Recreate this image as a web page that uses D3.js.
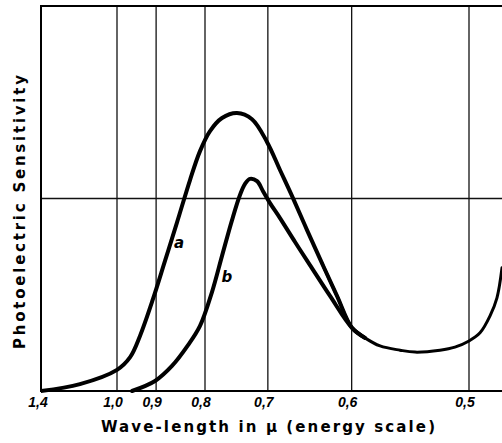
<!DOCTYPE html>
<html>
<head>
<meta charset="utf-8">
<script src="https://cdn.jsdelivr.net/npm/d3@7"></script>
<style>
  html, body { margin: 0; padding: 0; background: #fff; }
  svg { display: block; }
</style>
</head>
<body>
<svg id="chart" width="502" height="443"></svg>
<script>
// ---- data (wavelength in micron, sensitivity in arbitrary units 0..100) ----
const tickWaves  = [1.4, 1.0, 0.9, 0.8, 0.7, 0.6, 0.5];
const tickLabels = ["1,4", "1,0", "0,9", "0,8", "0,7", "0,6", "0,5"];
const gridSens   = [50];

const waveA = [1.40, 1.162, 1.0, 0.964, 0.9387, 0.9072, 0.880, 0.8543, 0.8282, 0.8092, 0.7910, 0.7702, 0.7458, 0.7228, 0.7012, 0.6835, 0.6667, 0.6494, 0.6320, 0.6154, 0.5997];
const sensA = [0.0,  1.8,   5.5, 8.8,   14.3,   23.9,   33.8,  43.8,   54.8,   62.3,   67.5,   70.9,   72.2,   70.6,   64.7,   57.4,   50.1,   41.8,   33.2,   24.7,   16.4];

const waveB = [0.9591, 0.9025, 0.8649, 0.8321, 0.8092, 0.7875, 0.7702, 0.7537, 0.7411, 0.7333, 0.7258, 0.7154, 0.7068, 0.6970, 0.6835, 0.6641, 0.6459, 0.6230, 0.5997];
const sensB = [0.0,    2.6,    6.5,    11.9,   16.9,   25.7,   35.1,   44.4,   50.9,   53.8,   55.1,   54.5,   51.9,   48.8,   44.9,   38.7,   32.7,   24.7,   16.4];

const waveTail = [0.5997, 0.5867, 0.5723, 0.5543, 0.5415, 0.5215, 0.5102, 0.5000, 0.4923, 0.4855, 0.4809, 0.4776];
const sensTail = [16.4,   13.8,   11.7,   10.6,   10.1,   10.6,   11.4,   13.0,   15.1,   19.5,   24.2,   32.0];

const curveLabels = [
  {name: "a", wave: 0.850, sens: 38.4},
  {name: "b", wave: 0.762, sens: 29.6}
];

// ---- layout ----
const svg = d3.select("#chart");
const pLeft = 41, pRight = 502, pTop = 6, pBottom = 391;

// energy scale: x is linear in 1/wavelength (left end is a broken/compressed segment)
const x = d3.scaleLinear()
  .domain([1 / 1.4, 1 / 1.0, 1 / 0.5])
  .range([pLeft, 117, 469]);
const xw = w => x(1 / w);
const y = d3.scaleLinear().domain([0, 100]).range([pBottom, pTop]);

const g = svg.append("g");

// vertical grid lines
g.selectAll("line.vgrid")
  .data(tickWaves.slice(1))
  .enter().append("line")
  .attr("x1", d => xw(d)).attr("x2", d => xw(d))
  .attr("y1", pTop).attr("y2", pBottom)
  .attr("stroke", "#111").attr("stroke-width", 1.3);

// horizontal grid line
g.selectAll("line.hgrid")
  .data(gridSens)
  .enter().append("line")
  .attr("x1", pLeft).attr("x2", pRight)
  .attr("y1", d => y(d)).attr("y2", d => y(d))
  .attr("stroke", "#111").attr("stroke-width", 1.3);

// frame (left, top, bottom)
g.append("path")
  .attr("d", `M${pRight},${pTop} L${pLeft},${pTop} L${pLeft},${pBottom} L${pRight},${pBottom}`)
  .attr("fill", "none").attr("stroke", "#000").attr("stroke-width", 2);

// curves
const line = d3.line()
  .x(d => xw(d[0]))
  .y(d => y(d[1]))
  .curve(d3.curveCatmullRom.alpha(0.5));

svg.append("clipPath").attr("id", "plotclip")
  .append("rect").attr("x", pLeft).attr("y", pTop)
  .attr("width", pRight - pLeft + 5).attr("height", pBottom - pTop + 3);

const curves = svg.append("g").attr("clip-path", "url(#plotclip)");

const tailPts = d3.zip(waveTail, sensTail);

// common tail (thinner), drawn continuous with curve a
curves.append("path")
  .datum(d3.zip(waveA, sensA).slice(-3).concat(tailPts.slice(1)))
  .attr("d", line)
  .attr("fill", "none").attr("stroke", "#000").attr("stroke-width", 3)
  .attr("stroke-linecap", "round");

curves.append("path")
  .datum(d3.zip(waveA, sensA).concat(tailPts.slice(1, 2)))
  .attr("d", line)
  .attr("fill", "none").attr("stroke", "#000").attr("stroke-width", 4)
  .attr("stroke-linecap", "round");

curves.append("path")
  .datum(d3.zip(waveB, sensB).concat(tailPts.slice(1, 2)))
  .attr("d", line)
  .attr("fill", "none").attr("stroke", "#000").attr("stroke-width", 4)
  .attr("stroke-linecap", "round");

// curve labels
svg.selectAll("text.clab")
  .data(curveLabels)
  .enter().append("text")
  .attr("x", d => xw(d.wave))
  .attr("y", d => y(d.sens))
  .attr("text-anchor", "middle")
  .attr("dominant-baseline", "middle")
  .attr("font-family", "'DejaVu Sans', sans-serif")
  .attr("font-style", "italic")
  .attr("font-weight", "bold")
  .attr("font-size", 15)
  .text(d => d.name);

// x tick labels
svg.selectAll("text.tick")
  .data(tickWaves)
  .enter().append("text")
  .attr("x", (d, i) => xw(d) - (i === 0 ? 3 : 4))
  .attr("y", 407)
  .attr("text-anchor", "middle")
  .attr("font-family", "'Liberation Sans', sans-serif")
  .attr("font-style", "italic")
  .attr("font-weight", "bold")
  .attr("font-size", 14)
  .text((d, i) => tickLabels[i]);

// axis titles
svg.append("text")
  .attr("x", 268).attr("y", 432)
  .attr("text-anchor", "middle")
  .attr("font-family", "'DejaVu Sans', sans-serif")
  .attr("font-weight", "bold")
  .attr("font-size", 15)
  .attr("textLength", 334)
  .attr("lengthAdjust", "spacing")
  .text("Wave-length in μ (energy scale)");

svg.append("text")
  .attr("transform", "translate(25,212) rotate(-90)")
  .attr("text-anchor", "middle")
  .attr("font-family", "'DejaVu Sans', sans-serif")
  .attr("font-weight", "bold")
  .attr("font-size", 15)
  .attr("textLength", 274)
  .attr("lengthAdjust", "spacing")
  .text("Photoelectric Sensitivity");
</script>
</body>
</html>
